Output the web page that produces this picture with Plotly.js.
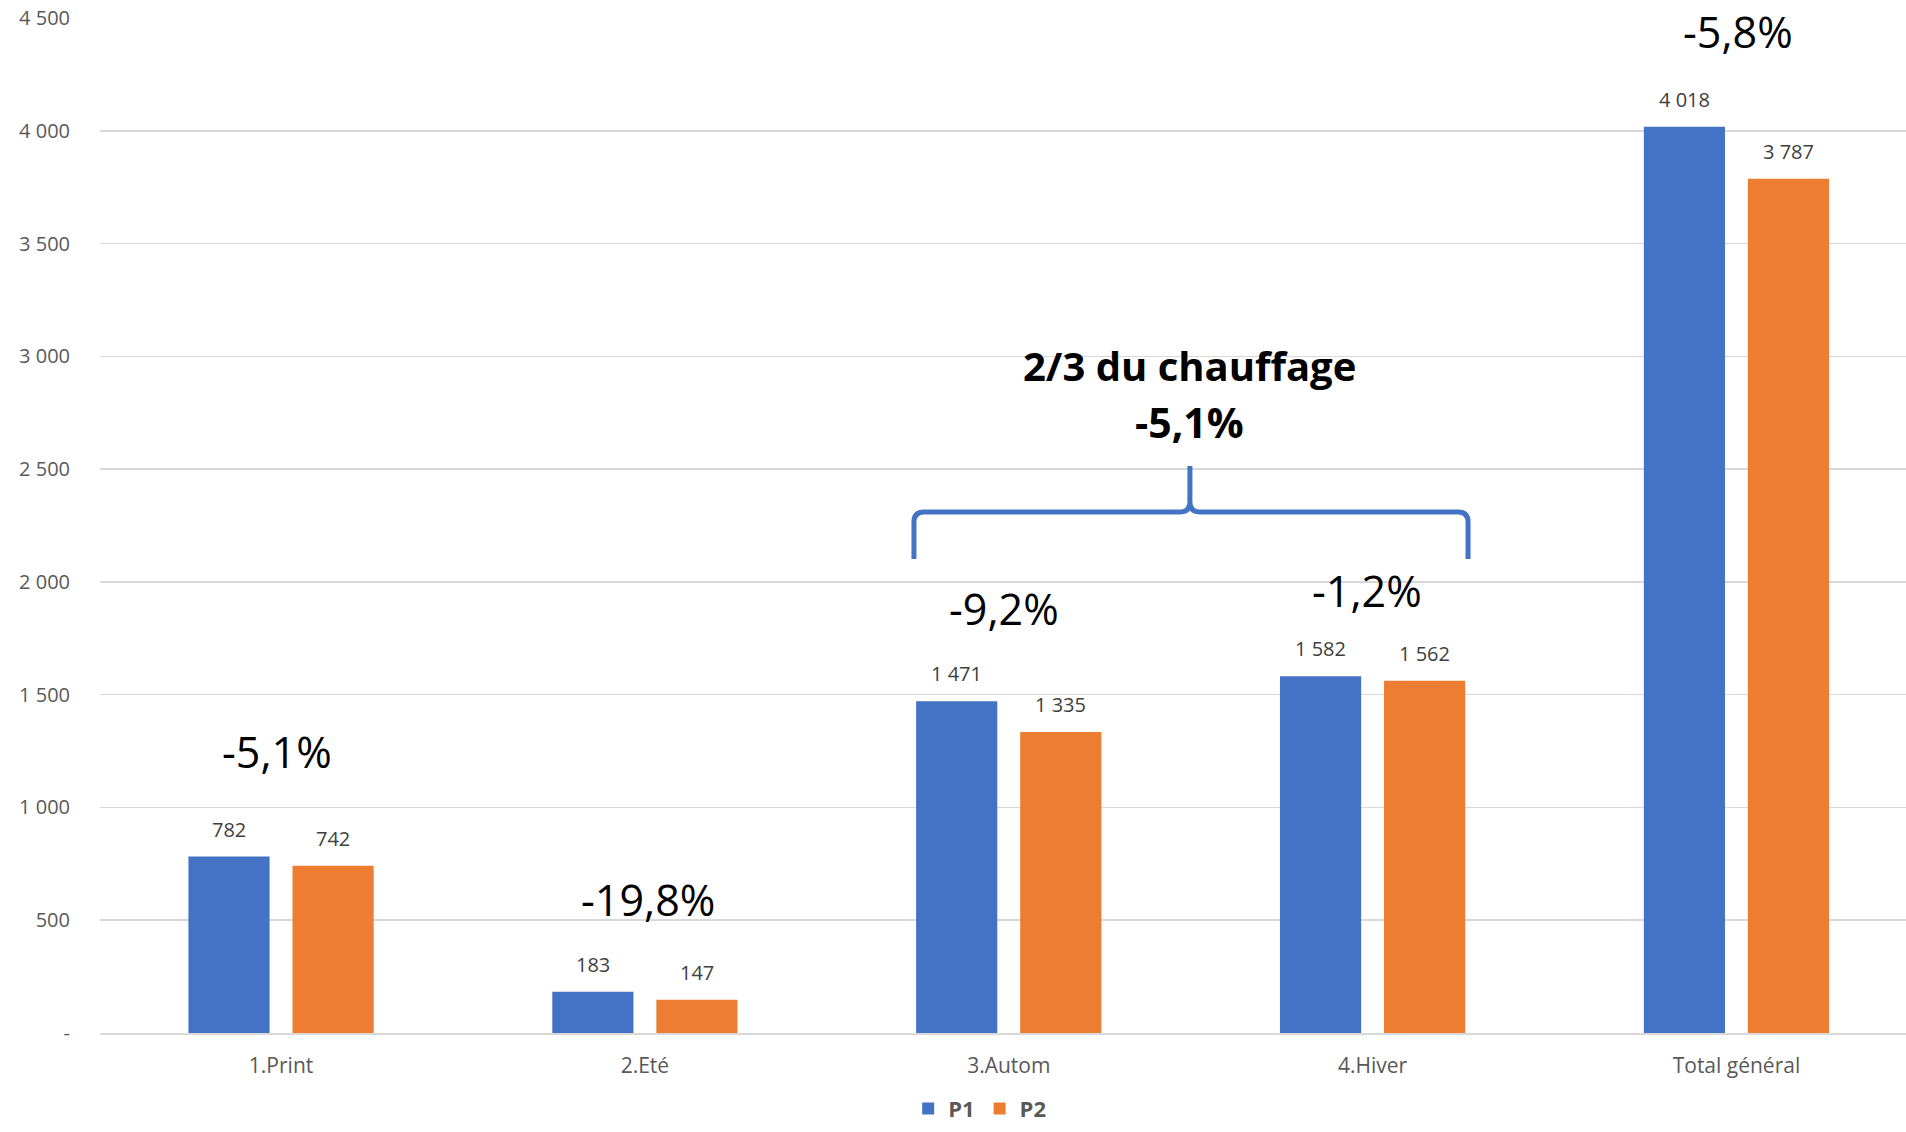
<!DOCTYPE html>
<html>
<head>
<meta charset="utf-8">
<script src="https://cdn.plot.ly/plotly-3.0.1.min.js"></script>
<style>html,body{margin:0;padding:0;background:#fff;}#chart{width:1906px;height:1132px;}</style>
</head>
<body>
<div id="chart"></div>
<script>
// ---- data ----
const categories = ["1.Print", "2.Eté", "3.Autom", "4.Hiver", "Total général"];
const seriesNames = ["P1", "P2"];
const p1Values = [782, 183, 1471, 1582, 4018];
const p2Values = [742, 147, 1335, 1562, 3787];
const pctLabels = ["-5,1%", "-19,8%", "-9,2%", "-1,2%", "-5,8%"];
const tickValues = [0, 500, 1000, 1500, 2000, 2500, 3000, 3500, 4000, 4500];
const tickLabels = ["-", "500", "1 000", "1 500", "2 000", "2 500", "3 000", "3 500", "4 000", "4 500"];
const groupTitle = "2/3 du chauffage";
const groupPct = "-5,1%";

// ---- styles ----
const BLUE = "#4472C4", ORANGE = "#ED7D31", GRAY = "#595959", GRID = "#D9D9D9";
const FONT = "Open Sans, sans-serif";

function fmt(v) { return String(v).replace(/\B(?=(\d{3})+(?!\d))/g, " "); }

const traces = [
  {type: "bar", name: seriesNames[0], x: categories, y: p1Values, marker: {color: BLUE}, hoverinfo: "none"},
  {type: "bar", name: seriesNames[1], x: categories, y: p2Values, marker: {color: ORANGE}, hoverinfo: "none"}
];

const annotations = [];
// data labels above bars
[p1Values, p2Values].forEach((vals, s) => {
  vals.forEach((v, i) => {
    annotations.push({
      x: categories[i], y: v, xref: "x", yref: "y", text: fmt(v), showarrow: false,
      xshift: s === 0 ? -52 : 52, yanchor: "bottom", yshift: 12,
      font: {family: FONT, size: 20, color: "#404040"}
    });
  });
});
// percentage labels
const pctY = [1246, 590, 1880, 1960, 4442];
const pctDx = [-4, 3, -5, -6, 2];
pctLabels.forEach((t, i) => {
  annotations.push({
    x: categories[i], y: pctY[i], xref: "x", yref: "y", text: t, showarrow: false,
    xshift: pctDx[i], yanchor: "middle", font: {family: FONT, size: 43, color: "#000"}
  });
});
// group labels
annotations.push({x: 0.6035, xref: "paper", y: 2961, yref: "y", text: groupTitle, showarrow: false,
  yanchor: "middle", font: {family: FONT, size: 40, color: "#000", weight: "bold"}});
annotations.push({x: 0.6035, xref: "paper", y: 2708, yref: "y", text: groupPct, showarrow: false,
  yanchor: "middle", font: {family: FONT, size: 41, color: "#000", weight: "bold"}});

// brace (paper coords)
const L = 0.4507, R = 0.7575, C = 0.6035, YT = 0.5133, YB = 0.4670, YP = 0.5586;
const rx = 0.0055, ry = 0.0099;
const bracePath =
  `M ${L} ${YB} L ${L} ${YT - ry} Q ${L} ${YT} ${L + rx} ${YT} L ${C - rx} ${YT} Q ${C} ${YT} ${C} ${YT + ry} L ${C} ${YP} ` +
  `M ${C} ${YT + ry} Q ${C} ${YT} ${C + rx} ${YT} L ${R - rx} ${YT} Q ${R} ${YT} ${R} ${YT - ry} L ${R} ${YB}`;

const layout = {
  width: 1906, height: 1132,
  margin: {l: 100, r: 0, t: 18, b: 99},
  paper_bgcolor: "#fff", plot_bgcolor: "#fff",
  barmode: "group", bargap: 0.428, bargroupgap: 0.22,
  font: {family: FONT, color: GRAY},
  xaxis: {
    type: "category", range: [-0.4976, 4.466], showgrid: false, showline: true, linecolor: GRID, linewidth: 2,
    ticks: "", tickfont: {family: FONT, size: 21, color: GRAY}, ticklabelstandoff: 13,
    fixedrange: true
  },
  yaxis: {
    range: [0, 4500], tickmode: "array", tickvals: tickValues, ticktext: tickLabels,
    showgrid: true, gridcolor: GRID, gridwidth: 1.5, zeroline: false, showline: false,
    ticks: "", tickfont: {family: FONT, size: 20, color: GRAY}, ticklabelstandoff: 29,
    fixedrange: true
  },
  showlegend: true,
  legend: {
    orientation: "h", xref: "container", yref: "container", x: 0.514, xanchor: "center",
    y: 0.002, yanchor: "bottom", font: {family: FONT, size: 22, color: GRAY, weight: "bold"},
    itemwidth: 30, tracegroupgap: 0, borderwidth: 0
  },
  annotations: annotations,
  shapes: [{type: "path", xref: "paper", yref: "paper", path: bracePath,
    line: {color: BLUE, width: 5}}]
};

Plotly.newPlot("chart", traces, layout, {displayModeBar: false, staticPlot: true});
</script>
</body>
</html>
